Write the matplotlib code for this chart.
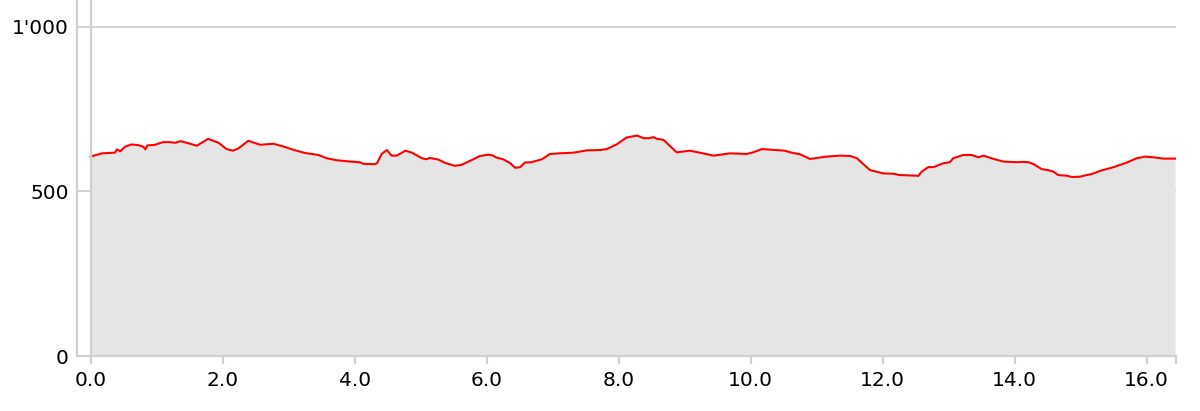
import matplotlib.pyplot as plt
from matplotlib.ticker import FuncFormatter

# === Elevation profile data (distance in km, altitude in m) ===
distance = [0.00, 0.17, 0.37, 0.40, 0.45, 0.52, 0.62, 0.72, 0.80, 0.83, 0.86, 0.98,
            1.05, 1.10, 1.20, 1.28, 1.36, 1.46, 1.61, 1.78, 1.94, 2.06, 2.16, 2.24,
            2.39, 2.57, 2.77, 2.90, 3.07, 3.25, 3.45, 3.58, 3.73, 3.93, 4.08, 4.13,
            4.31, 4.34, 4.41, 4.49, 4.56, 4.64, 4.77, 4.87, 5.02, 5.09, 5.14, 5.27,
            5.37, 5.52, 5.62, 5.78, 5.90, 6.03, 6.10, 6.15, 6.25, 6.36, 6.43, 6.51,
            6.58, 6.68, 6.84, 6.96, 7.11, 7.32, 7.52, 7.72, 7.82, 7.97, 8.12, 8.28,
            8.38, 8.45, 8.53, 8.58, 8.68, 8.88, 9.08, 9.23, 9.44, 9.69, 9.94, 10.04,
            10.17, 10.52, 10.60, 10.75, 10.90, 11.15, 11.36, 11.51, 11.61, 11.81, 12.01, 12.16,
            12.26, 12.52, 12.54, 12.59, 12.69, 12.77, 12.92, 13.02, 13.07, 13.22, 13.35, 13.45,
            13.53, 13.68, 13.83, 14.03, 14.13, 14.21, 14.29, 14.41, 14.51, 14.59, 14.66, 14.79,
            14.87, 14.99, 15.09, 15.17, 15.30, 15.50, 15.70, 15.85, 15.98, 16.10, 16.25, 16.43]
altitude = [606, 616, 618, 628, 622, 636, 643, 641, 636, 628, 640, 642,
            647, 650, 650, 648, 653, 648, 639, 660, 648, 629, 624, 631,
            654, 642, 645, 638, 627, 617, 611, 601, 595, 591, 589, 584,
            583, 586, 614, 626, 609, 609, 624, 618, 601, 598, 602, 597,
            587, 578, 581, 596, 608, 612, 609, 603, 598, 586, 572, 574,
            588, 589, 598, 614, 616, 618, 625, 626, 629, 643, 664, 670,
            662, 662, 665, 660, 657, 619, 624, 618, 609, 616, 614, 619,
            629, 624, 619, 613, 599, 606, 609, 608, 601, 565, 555, 554,
            550, 548, 547, 560, 574, 574, 586, 589, 601, 611, 611, 604,
            609, 599, 591, 589, 590, 589, 583, 568, 565, 560, 550, 548,
            544, 545, 550, 553, 563, 574, 588, 601, 606, 604, 600, 600]

x_ticks = [0, 2, 4, 6, 8, 10, 12, 14, 16]
y_ticks = [0, 500, 1000]

axis_grey = '#d0d0d0'

fig = plt.figure(figsize=(12, 4.11), dpi=100)
ax = fig.add_axes([0.0642, 0.1338, 0.9158, 0.8662])

ax.fill_between(distance, altitude, 0, color='#e5e5e5', linewidth=0, zorder=2)
ax.plot(distance, altitude, color='red', linewidth=1.5, zorder=3)
ax.axvline(0, color=axis_grey, linewidth=1.6, zorder=4)

ax.set_xlim(-0.205, distance[-1] + 0.015)
ax.set_ylim(0, 1082)

ax.set_xticks(x_ticks + [distance[-1] + 0.015])
ax.set_xticklabels([f'{t:.1f}' for t in x_ticks] + [''])
ax.set_yticks(y_ticks)
ax.yaxis.set_major_formatter(FuncFormatter(lambda v, p: f'{int(v):,}'.replace(',', "'")))

ax.yaxis.grid(True, color=axis_grey, linewidth=1.3, zorder=1)
ax.set_axisbelow(True)

for side in ['top', 'right']:
    ax.spines[side].set_visible(False)
for side in ['left', 'bottom']:
    ax.spines[side].set_color(axis_grey)
    ax.spines[side].set_linewidth(1.6)

ax.tick_params(axis='x', length=6, width=1.6, color=axis_grey, pad=5, labelsize=14.5)
ax.tick_params(axis='y', length=0, pad=6, labelsize=14.5)

plt.savefig('out.png', dpi=100)
